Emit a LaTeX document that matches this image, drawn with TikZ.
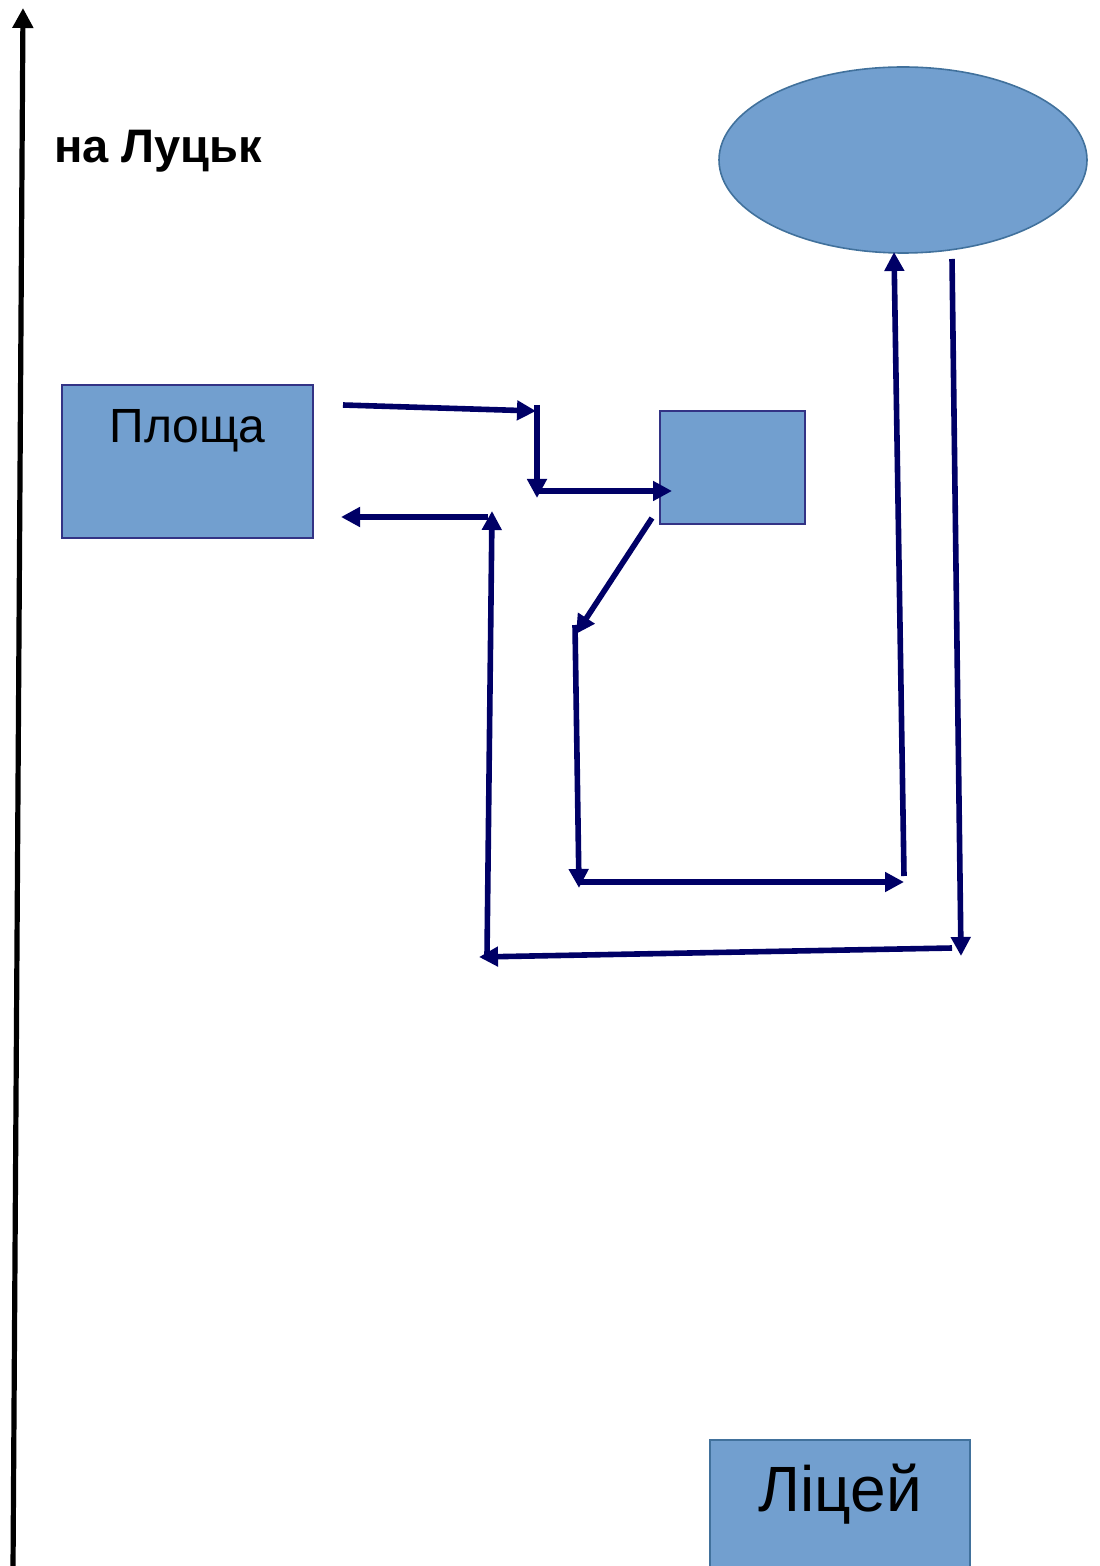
\documentclass[tikz,border=0pt]{standalone}
\usepackage{fontspec}
\setmainfont{Liberation Sans}
\usetikzlibrary{arrows.meta}
\usetikzlibrary{shapes.geometric}
\definecolor{boxblue}{RGB}{114,159,207}
\definecolor{edgeblue}{RGB}{65,113,156}
\definecolor{routenavy}{RGB}{0,0,102}
\tikzset{x=0.5pt, y=-0.5pt,
place/.style={ % Sets the properties for each place
draw=routenavy!80, line width=0.8pt,
fill=boxblue, inner sep=0pt},
school/.style={place, draw=edgeblue},
route/.style={ % Sets the properties for each route
draw=routenavy, line width=2.8pt,
-{Triangle[length=9.5pt,width=9.5pt]}},
road/.style={draw=black, line width=2.6pt,
-{Triangle[length=10pt,width=10pt]}}}

\begin{document}
\begin{tikzpicture}
	\useasboundingbox (0,0) rectangle (1099,1566);
	% places
	\node[place, minimum width=125.5pt, minimum height=76.5pt] (square) at (187.5,461.5) {};
	\node[font=\fontsize{24}{28}\selectfont, anchor=north] at (187.5,402) {Площа};
	\node[place, minimum width=72.5pt, minimum height=56.5pt] (shop) at (732.5,467.5) {};
	\node[ellipse, school, minimum width=184pt, minimum height=93pt] (park) at (903,160) {};
	\node[school, minimum width=130pt, minimum height=66pt] (lyceum) at (840,1506) {};
	\node[font=\fontsize{32}{36}\selectfont] at (840,1494) {Ліцей};
	% road to Lutsk
	\coordinate (r0) at (13,1570);
	\coordinate (r1) at (23,8);
	\draw[road] (r0) -- (r1);
	\node[font=\bfseries\fontsize{23.5}{28}\selectfont, anchor=west] (lutsk) at (47,151) {на Луцьк};
	% route points
	\coordinate (a1) at (343,405);
	\coordinate (a2) at (536,411);
	\coordinate (b1) at (537,405);
	\coordinate (b2) at (537,498);
	\coordinate (c1) at (537,491);
	\coordinate (c2) at (672,491);
	\coordinate (d1) at (652,518);
	\coordinate (d2) at (576,634);
	\coordinate (e1) at (575,625);
	\coordinate (e2) at (579,888);
	\coordinate (f1) at (578,882);
	\coordinate (f2) at (904,882);
	\coordinate (g1) at (904,876);
	\coordinate (g2) at (894,252);
	\coordinate (h1) at (952,259);
	\coordinate (h2) at (961,956);
	\coordinate (i1) at (952,948);
	\coordinate (i2) at (479,957);
	\coordinate (j1) at (487,955);
	\coordinate (j2) at (492,511);
	\coordinate (k1) at (488,517);
	\coordinate (k2) at (341,517);
	% routes
	\draw[route] (a1) -- (a2);
	\draw[route] (b1) -- (b2);
	\draw[route] (c1) -- (c2);
	\draw[route] (d1) -- (d2);
	\draw[route] (e1) -- (e2);
	\draw[route] (f1) -- (f2);
	\draw[route] (g1) -- (g2);
	\draw[route] (h1) -- (h2);
	\draw[route] (i1) -- (i2);
	\draw[route] (j1) -- (j2);
	\draw[route] (k1) -- (k2);
\end{tikzpicture}
\end{document}
